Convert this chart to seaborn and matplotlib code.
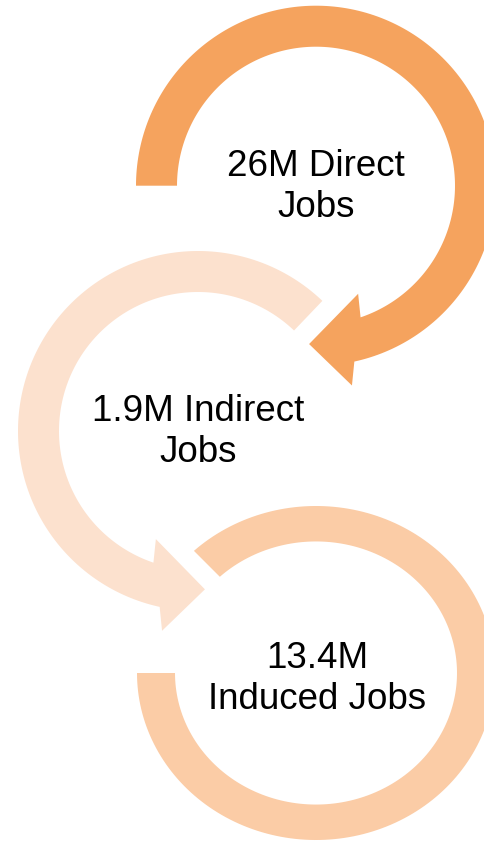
import numpy as np
import matplotlib
matplotlib.use("Agg")
import matplotlib.pyplot as plt
from matplotlib.patches import Polygon
import seaborn as sns

# ---- data ----
categories = ["Direct", "Indirect", "Induced"]
jobs_millions = [26, 1.9, 13.4]
labels = ["26M Direct\nJobs", "1.9M Indirect\nJobs", "13.4M\nInduced Jobs"]
colors = ["#F5A35E", "#FCE1CE", "#FBCCA6"]

# ---- layout (pixel coordinates) ----
centers = [(316, 185.7), (198, 431), (316, 673)]
y_scale = [1.0, 1.0, 0.933]
radii_out = [180, 180, 179]
radii_in = [139, 139, 141]
start_ang = [180, 46.3, 133]
end_ang = [-75, 255, -180]
direction = [-1, 1, -1]
has_arrow = [True, True, False]
text_pos = [(316, 187), (198, 432), (317, 679)]

sns.set_theme(style="white")
plt.rcParams['font.family'] = ['Liberation Sans', 'DejaVu Sans']

fig = plt.figure(figsize=(4.85, 8.42), dpi=100)
ax = fig.add_axes([0, 0, 1, 1])
ax.set_xlim(0, 485)
ax.set_ylim(842, 0)
ax.axis("off")


def pt(c, sy, r, a):
    a = np.deg2rad(a)
    return (c[0] + r * np.cos(a), c[1] - r * np.sin(a) * sy)


def arc(c, sy, r, a0, a1, n=200):
    return [pt(c, sy, r, a) for a in np.linspace(a0, a1, n)]


for i in range(3):
    c, sy, d = centers[i], y_scale[i], direction[i]
    ro, ri = radii_out[i], radii_in[i]
    a0, ae = start_ang[i], end_ang[i]
    if has_arrow[i]:
        so = ae + d * 2.7
        si = ae - d * 3.7
        verts = arc(c, sy, ro, a0, so)
        verts.append(pt(c, sy, 203, ae + d * 4.8))
        verts.append(pt(c, sy, 158.5, ae + d * 17.5))
        verts.append(pt(c, sy, 116, ae - d * 6.3))
        verts += arc(c, sy, ri, si, a0)
    else:
        verts = arc(c, sy, ro, a0, ae) + arc(c, sy, ri, ae, a0)
    ax.add_patch(Polygon(verts, closed=True, facecolor=colors[i],
                         edgecolor="none", zorder=2))
    ax.text(text_pos[i][0], text_pos[i][1], labels[i], ha="center",
            va="center", ma="center", fontsize=26.5, linespacing=1.25,
            color="black", zorder=3)

fig.savefig("out.png", dpi=100)
